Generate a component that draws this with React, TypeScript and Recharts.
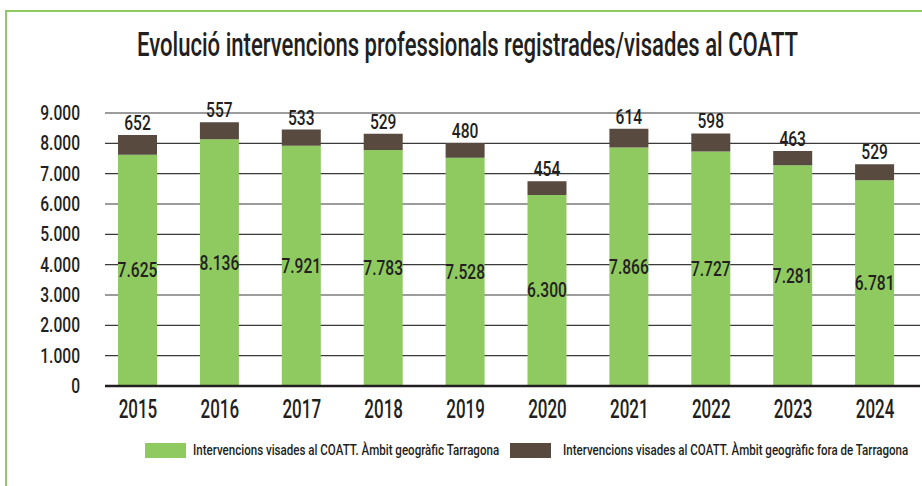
import { BarChart, Bar, XAxis, YAxis, CartesianGrid, LabelList, ReferenceLine } from 'recharts';

const years = ['2015', '2016', '2017', '2018', '2019', '2020', '2021', '2022', '2023', '2024'];
const tarragona = [7625, 8136, 7921, 7783, 7528, 6300, 7866, 7727, 7281, 6781];
const foraTarragona = [652, 557, 533, 529, 480, 454, 614, 598, 463, 529];
const yTicks = [0, 1000, 2000, 3000, 4000, 5000, 6000, 7000, 8000, 9000];
const seriesNames = [
  'Intervencions visades al COATT. Àmbit geogràfic Tarragona',
  'Intervencions visades al COATT. Àmbit geogràfic fora de Tarragona',
];
const TITLE = 'Evolució intervencions professionals registrades/visades al COATT';

const FONT = 'Roboto, "Liberation Sans", sans-serif';
const INK = '#231f20';
const GREEN = '#8fca60';
const BROWN = '#594a40';

const fmt = (v: number) => v.toLocaleString('de-DE');

const data = years.map((y, i) => ({ year: y, dins: tarragona[i], fora: foraTarragona[i] }));

// condensed text: the original uses a narrow Futura-like face
function CText({ x, y, text, size, sx, anchor = 'middle' }: any) {
  return (
    <text transform={`translate(${x},${y}) scale(${sx},1)`} textAnchor={anchor} fontFamily={FONT}
      fontSize={size} fontWeight={500} fill={INK}>
      {text}
    </text>
  );
}

const XTick = (p: any) => <CText x={p.x} y={p.y + 30} text={p.payload.value} size={25} sx={0.68} />;
const YTick = (p: any) => <CText x={p.x} y={p.y + 7} text={fmt(p.payload.value)} size={20} sx={0.78} anchor="end" />;
const MidLabel = (p: any) => <CText x={p.x + p.width / 2} y={p.y + p.height / 2 + 7} text={fmt(p.value)} size={19.5} sx={0.8} />;
const TopLabel = (p: any) => <CText x={p.x + p.width / 2} y={p.y - 5} text={p.value} size={19.5} sx={0.8} />;

function LegendRow() {
  const colors = [GREEN, BROWN];
  const boxLeft = [145, 510];
  return (
    <>
      {seriesNames.map((name, i) => (
        <div key={i}>
          <div style={{ position: 'absolute', left: boxLeft[i], top: 443, width: 41, height: 15, background: colors[i] }} />
          <div style={{ position: 'absolute', left: boxLeft[i] + 48 + i * 5, top: 440, fontFamily: FONT, fontWeight: 500, fontSize: 15.5,
            color: INK, whiteSpace: 'nowrap', transform: 'scaleX(0.745)', transformOrigin: 'left center', lineHeight: '20px' }}>
            {name}
          </div>
        </div>
      ))}
    </>
  );
}

export default function App() {
  return (
    <div style={{ position: 'absolute', left: 0, top: 0, width: 922, height: 486, background: '#fff', overflow: 'hidden' }}>
      <div style={{ position: 'absolute', left: 5, top: 10, right: -4, bottom: -4, borderLeft: `2px solid ${GREEN}`, borderTop: `2px solid ${GREEN}` }} />
      <div style={{ position: 'absolute', left: -333, top: 24, width: 1600, textAlign: 'center', lineHeight: '40px' }}>
        <span style={{ display: 'inline-block', fontFamily: FONT, fontWeight: 500, fontSize: 34, color: INK, whiteSpace: 'nowrap',
          transform: 'scaleX(0.65)', transformOrigin: 'center' }}>
          {TITLE}
        </span>
      </div>
      <div style={{ position: 'absolute', left: 0, top: 0 }}>
        <BarChart width={922} height={486} data={data} margin={{ top: 113, right: 2, bottom: 70, left: 45 }} barSize={39}>
          <CartesianGrid vertical={false} stroke="#3a3a3a" strokeWidth={1.2} />
          <XAxis dataKey="year" height={30} padding={{ left: -8, right: 4 }} axisLine={false} tickLine={false} tickSize={0} tick={XTick} />
          <YAxis width={60} domain={[0, 9000]} ticks={yTicks} interval={0} axisLine={false} tickLine={false} tickSize={0}
            tickMargin={25} tick={YTick} />
          <ReferenceLine y={0} stroke={INK} strokeWidth={2.5} />
          <Bar dataKey="dins" stackId="a" fill={GREEN} isAnimationActive={false}>
            <LabelList dataKey="dins" content={MidLabel} />
          </Bar>
          <Bar dataKey="fora" stackId="a" fill={BROWN} isAnimationActive={false}>
            <LabelList dataKey="fora" content={TopLabel} />
          </Bar>
        </BarChart>
      </div>
      <LegendRow />
    </div>
  );
}
